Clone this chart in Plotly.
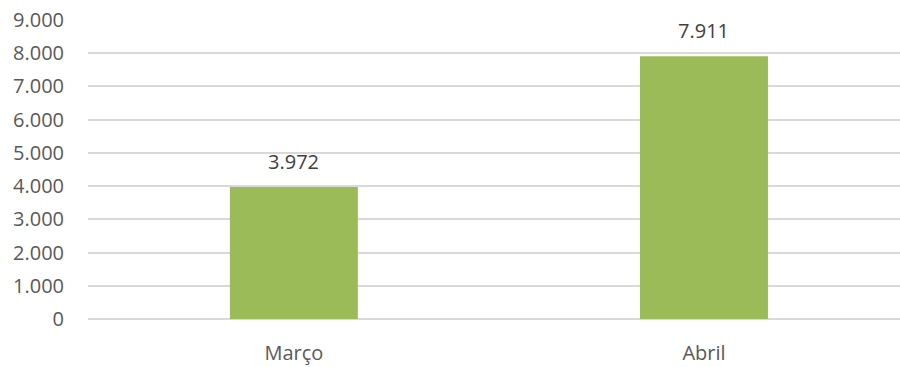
import plotly.graph_objects as go

categories = ["Março", "Abril"]
values = [3972, 7911]
y_ticks = [0, 1000, 2000, 3000, 4000, 5000, 6000, 7000, 8000, 9000]

def fmt(v):
    return f"{v:,}".replace(",", ".")

fig = go.Figure()
fig.add_trace(go.Bar(
    x=[0, 1], y=values, width=0.312,
    marker=dict(color="#9BBB59", line=dict(width=0)),
    hoverinfo="skip",
))

for i, v in enumerate(values):
    fig.add_annotation(x=i, y=v, text=fmt(v), showarrow=False,
                       yanchor="bottom", yshift=10,
                       font=dict(family="Open Sans", size=20, color="#404040"))

fig.update_layout(
    width=900, height=367,
    margin=dict(l=88, r=0, t=20, b=48),
    paper_bgcolor="white", plot_bgcolor="white",
    separators=",.",
    showlegend=False,
    font=dict(family="Open Sans", size=20, color="#595959"),
    xaxis=dict(
        range=[-0.502, 1.478],
        tickvals=[0, 1], ticktext=categories,
        showgrid=False, zeroline=False, showline=False,
        ticks="outside", ticklen=16, tickcolor="rgba(0,0,0,0)",
        tickfont=dict(family="Open Sans", size=20, color="#595959"),
    ),
    yaxis=dict(
        range=[0, 9000],
        tickvals=y_ticks, tickformat=",d",
        showgrid=True, gridcolor="#d9d9d9", gridwidth=1.5,
        zeroline=True, zerolinecolor="#d9d9d9", zerolinewidth=1.5,
        showline=False,
        ticks="outside", ticklen=19, tickcolor="rgba(0,0,0,0)",
        tickfont=dict(family="Open Sans", size=20, color="#595959"),
    ),
)

fig.write_html("out.html")
